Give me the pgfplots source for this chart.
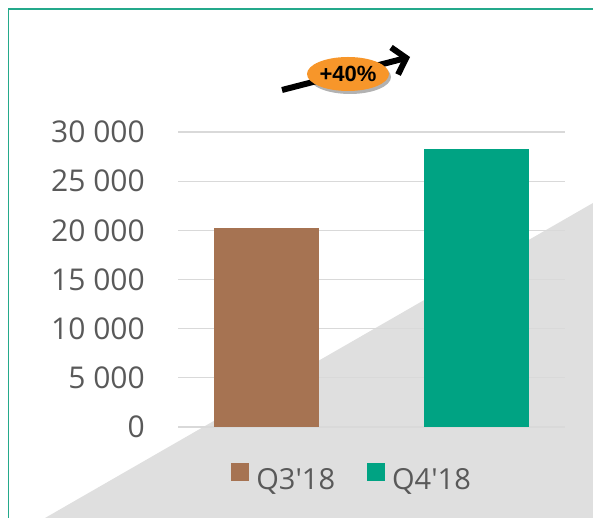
\documentclass[border=0pt]{standalone}
\usepackage{pgfplots}
\pgfplotsset{compat=1.18}
\usepackage{fontspec}
\setmainfont{Open Sans}
\newfontfamily\arialf{Liberation Sans}
\usetikzlibrary{arrows.meta,shadows,shapes.geometric}

\definecolor{brownbar}{HTML}{A67352}
\definecolor{tealbar}{HTML}{00A383}
\definecolor{framegreen}{HTML}{24A98B}
\definecolor{bggray}{HTML}{DFDFDF}
\definecolor{gridgray}{HTML}{D9D9D9}
\definecolor{ticktext}{HTML}{595959}
\definecolor{badge}{HTML}{F7962A}

\pgfplotsset{
  sqlegend/.style={legend image code/.code={
      \fill[##1] (0pt,-2pt) rectangle (18pt,16pt);}},
}

\begin{document}
\begin{tikzpicture}
\useasboundingbox (0,0) rectangle (593pt,518pt);
% grey wedge behind the chart
\fill[bggray] (45pt,0) -- (593pt,315pt) -- (593pt,0) -- cycle;
% frame (only left and top edges are visible)
\draw[framegreen, line width=1.5pt] (8.5pt,0) -- (8.5pt,509pt) -- (593pt,509pt);

\begin{axis}[
    at={(178pt,91pt)}, anchor=south west,
    scale only axis,
    width=387pt, height=295pt,
    xmin=0.58, xmax=2.42,
    ymin=0, ymax=30000,
    scaled y ticks=false,
    xtick=\empty,
    ytick={0,5000,10000,15000,20000,25000,30000},
    yticklabels={0,5 000,10 000,15 000,20 000,25 000,30 000},
    major tick length=0pt,
    axis line style={draw=none},
    ymajorgrids,
    grid style={line width=1.2pt, gridgray},
    yticklabel style={inner sep=0pt, xshift=-33pt, font=\fontsize{30}{36}\selectfont, color=ticktext},
    legend style={at={(0.45,-0.173)}, anchor=center, draw=none, fill=none,
        legend columns=2, font=\fontsize{29}{34}\selectfont, text=ticktext,
        /tikz/every odd column/.append style={column sep=5pt},
        /tikz/every even column/.append style={column sep=30pt}},
]
\addplot[ybar, bar width=0.5, bar shift=0pt, fill=brownbar, draw=none, sqlegend]
    coordinates {(1,20200)};
\addplot[ybar, bar width=0.5, bar shift=0pt, fill=tealbar, draw=none, sqlegend]
    coordinates {(2,28300)};
\legend{Q3\textquotesingle18, Q4\textquotesingle18}
\end{axis}

% growth arrow with badge
\draw[line width=6pt, -{Straight Barb[length=12pt, width=28pt]}] (282pt,428pt) -- (410pt,461pt);
\node[ellipse, fill=badge, minimum width=82pt, minimum height=34pt, inner sep=0pt,
      drop shadow={shadow xshift=2pt, shadow yshift=-3pt, opacity=0.3, fill=black}]
    at (348pt,444pt) {\arialf\bfseries\fontsize{22}{25}\selectfont +40\%};
\end{tikzpicture}
\end{document}
